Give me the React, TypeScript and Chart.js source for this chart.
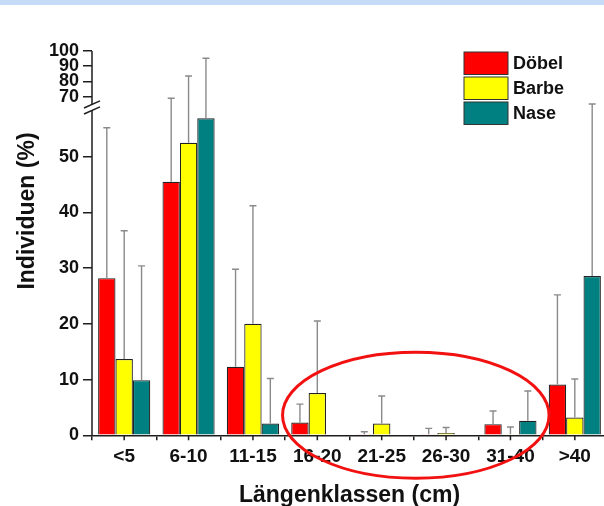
import React, { useEffect, useRef } from 'react';
import { Chart, registerables, LinearScale } from 'chart.js';

// ---------- data ----------
const CATEGORIES = ['<5', '6-10', '11-15', '16-20', '21-25', '26-30', '31-40', '>40'];
const DOEBEL = [28.2, 45.5, 12.3, 2.3, 0.2, 0.2, 2.0, 9.1];
const DOEBEL_SD = [27.0, 23.5, 17.5, 3.3, 0.45, 1.05, 2.35, 16.1];
const BARBE = [13.7, 52.5, 20.0, 7.6, 2.1, 0.4, 0.2, 3.2];
const BARBE_SD = [23.0, 31.1, 21.2, 12.9, 4.95, 1.0, 1.3, 6.9];
const NASE = [9.9, 56.9, 2.1, 0, 0, 0, 2.6, 28.6];
const NASE_SD = [20.5, 38.3, 8.1, null, null, null, 5.35, 36.4];
const SERIES_NAMES = ['Döbel', 'Barbe', 'Nase'];
const Y_TICKS = [0, 10, 20, 30, 40, 50, 70, 80, 90, 100];
const X_TITLE = 'Längenklassen (cm)';
const Y_TITLE = 'Individuen (%)';
// highlighted region (category index / value units)
const HIGHLIGHT = { xCenter: 4.53, yCenter: 3.6, xRadius: 2.07, yRadius: 11.3 };

// ---------- broken axis transform ----------
const BREAK_LOW = 58;
const BREAK_HIGH = 66;
const UPPER_REF = 70;
const UPPER_REF_DISPLAY = 60.77;
const UPPER_FACTOR = 0.2733;
function fwd(v: number): number {
  if (v <= BREAK_LOW) return v;
  const hi = UPPER_REF_DISPLAY + (BREAK_HIGH - UPPER_REF) * UPPER_FACTOR;
  if (v >= BREAK_HIGH) return UPPER_REF_DISPLAY + (v - UPPER_REF) * UPPER_FACTOR;
  return BREAK_LOW + ((v - BREAK_LOW) * (hi - BREAK_LOW)) / (BREAK_HIGH - BREAK_LOW);
}
function inv(d: number): number {
  const hi = fwd(BREAK_HIGH);
  if (d <= BREAK_LOW) return d;
  if (d >= hi) return UPPER_REF + (d - UPPER_REF_DISPLAY) / UPPER_FACTOR;
  return BREAK_LOW + ((d - BREAK_LOW) * (BREAK_HIGH - BREAK_LOW)) / (hi - BREAK_LOW);
}

class BrokenLinearScale extends LinearScale {
  static id = 'brokenLinear';
  getPixelForValue(value: any) {
    if (value === null || value === undefined || isNaN(value)) return NaN;
    const a = fwd((this as any).min);
    const b = fwd((this as any).max);
    return this.getPixelForDecimal((fwd(value) - a) / (b - a));
  }
  getValueForPixel(pixel: number) {
    const a = fwd((this as any).min);
    const b = fwd((this as any).max);
    return inv(a + this.getDecimalForPixel(pixel) * (b - a));
  }
}

Chart.register(...registerables, BrokenLinearScale as any);

const FONT = "'Liberation Sans', Arial, Helvetica, sans-serif";
const COLORS = ['#ff0000', '#ffff00', '#008080'];
const SDS = [DOEBEL_SD, BARBE_SD, NASE_SD];
const AXIS_COLOR = '#1e1e1e';

const decorPlugin = {
  id: 'decor',
  beforeDraw(chart: any) {
    const ctx = chart.ctx;
    ctx.save();
    ctx.fillStyle = '#ffffff';
    ctx.fillRect(0, 0, chart.width, chart.height);
    ctx.fillStyle = '#c6dbf7';
    ctx.fillRect(0, 0, chart.width, 5);
    ctx.restore();
  },
  afterDatasetsDraw(chart: any) {
    const ctx = chart.ctx;
    const y = chart.scales.y;
    ctx.save();
    ctx.strokeStyle = '#8a8a8a';
    ctx.lineWidth = 1.4;
    chart.data.datasets.forEach((ds: any, di: number) => {
      const meta = chart.getDatasetMeta(di);
      meta.data.forEach((el: any, i: number) => {
        const sd = SDS[di][i];
        if (sd === null || sd === undefined) return;
        const top = y.getPixelForValue(ds.data[i] + sd);
        ctx.beginPath();
        ctx.moveTo(el.x, el.y);
        ctx.lineTo(el.x, top);
        ctx.moveTo(el.x - 3.5, top);
        ctx.lineTo(el.x + 3.5, top);
        ctx.stroke();
      });
    });
    ctx.restore();
  },
  afterDraw(chart: any) {
    const ctx = chart.ctx;
    const area = chart.chartArea;
    const x = chart.scales.x;
    const y = chart.scales.y;
    ctx.save();
    // y axis line with break
    const yc = (y.getPixelForValue(BREAK_LOW) + y.getPixelForValue(BREAK_HIGH)) / 2;
    const L = area.left;
    ctx.strokeStyle = AXIS_COLOR;
    ctx.lineWidth = 1.5;
    ctx.beginPath();
    ctx.moveTo(L, y.getPixelForValue(0));
    ctx.lineTo(L, yc + 3);
    ctx.moveTo(L, yc - 3);
    ctx.lineTo(L, y.getPixelForValue(100));
    ctx.stroke();
    ctx.beginPath();
    ctx.moveTo(L - 8, yc + 3 + 3.6);
    ctx.lineTo(L + 8, yc + 3 - 3.6);
    ctx.moveTo(L - 8, yc - 3 + 3.6);
    ctx.lineTo(L + 8, yc - 3 - 3.6);
    ctx.stroke();
    // center ticks on x axis
    const b = area.bottom;
    ctx.beginPath();
    CATEGORIES.forEach((_, i) => {
      const px = x.getPixelForValue(i);
      ctx.moveTo(px, b);
      ctx.lineTo(px, b + 5);
    });
    ctx.stroke();
    // titles
    ctx.fillStyle = '#111';
    ctx.font = `bold 23px ${FONT}`;
    ctx.textAlign = 'center';
    ctx.textBaseline = 'alphabetic';
    ctx.fillText(X_TITLE, (area.left + area.right) / 2, 502);
    ctx.save();
    ctx.translate(34, 211);
    ctx.rotate(-Math.PI / 2);
    ctx.fillText(Y_TITLE, 0, 0);
    ctx.restore();
    // legend
    ctx.font = `bold 18px ${FONT}`;
    ctx.textAlign = 'left';
    ctx.textBaseline = 'middle';
    SERIES_NAMES.forEach((name, i) => {
      const bx = area.left + 372;
      const by = 52 + i * 25;
      ctx.fillStyle = COLORS[i];
      ctx.fillRect(bx, by, 44, 22.5);
      ctx.strokeStyle = '#333';
      ctx.lineWidth = 1;
      ctx.strokeRect(bx, by, 44, 22.5);
      ctx.fillStyle = '#111';
      ctx.fillText(name, bx + 49, by + 12);
    });
    // highlight ellipse
    const cx = x.getPixelForValue(HIGHLIGHT.xCenter);
    const rx = Math.abs(x.getPixelForValue(1) - x.getPixelForValue(0)) * HIGHLIGHT.xRadius;
    const cy = y.getPixelForValue(HIGHLIGHT.yCenter);
    const ry = Math.abs(y.getPixelForValue(HIGHLIGHT.yCenter + HIGHLIGHT.yRadius) - cy);
    ctx.strokeStyle = '#f21111';
    ctx.lineWidth = 3;
    ctx.beginPath();
    ctx.ellipse(cx, cy, rx, ry, 0, 0, Math.PI * 2);
    ctx.stroke();
    ctx.restore();
  },
};

export default function App() {
  const ref = useRef<HTMLCanvasElement | null>(null);
  useEffect(() => {
    if (!ref.current) return;
    const series = [DOEBEL, BARBE, NASE];
    const chart = new Chart(ref.current, {
      type: 'bar',
      data: {
        labels: CATEGORIES,
        datasets: series.map((d, i) => ({
          label: SERIES_NAMES[i],
          data: d,
          backgroundColor: COLORS[i],
          borderColor: '#222',
          borderWidth: 1.2,
          categoryPercentage: 0.81,
          barPercentage: 1,
        })),
      },
      options: {
        animation: false,
        responsive: false,
        devicePixelRatio: 1,
        layout: { padding: { top: 51, left: 0, right: 3, bottom: 0 } },
        plugins: { legend: { display: false }, tooltip: { enabled: false } },
        scales: {
          x: {
            type: 'category',
            offset: true,
            grid: {
              offset: true,
              drawOnChartArea: false,
              drawTicks: true,
              tickLength: 5,
              color: AXIS_COLOR,
              lineWidth: 1.5,
            },
            border: { display: true, color: AXIS_COLOR, width: 1.5 },
            ticks: {
              font: { family: FONT, size: 19, weight: 'bold' },
              color: '#111',
              padding: 5,
              maxRotation: 0,
              autoSkip: false,
            },
            afterFit: (s: any) => {
              s.height = 70.7;
            },
          },
          y: {
            type: 'brokenLinear' as any,
            min: 0,
            max: 100,
            afterBuildTicks: (s: any) => {
              s.ticks = Y_TICKS.map((v) => ({ value: v }));
            },
            afterFit: (s: any) => {
              s.width = 92;
            },
            grid: {
              drawOnChartArea: false,
              drawTicks: true,
              tickLength: 9,
              color: AXIS_COLOR,
              lineWidth: 1.5,
            },
            border: { display: false },
            ticks: {
              font: { family: FONT, size: 18, weight: 'bold' },
              color: '#111',
              padding: 4,
              autoSkip: false,
            },
          } as any,
        },
      },
      plugins: [decorPlugin],
    });
    return () => chart.destroy();
  }, []);
  return (
    <div
      style={{
        position: 'fixed',
        left: 0,
        top: 0,
        width: 604,
        height: 506,
        overflow: 'hidden',
        background: '#fff',
      }}
    >
      <canvas ref={ref} width={610} height={506} style={{ display: 'block', width: 610, height: 506 }} />
    </div>
  );
}
